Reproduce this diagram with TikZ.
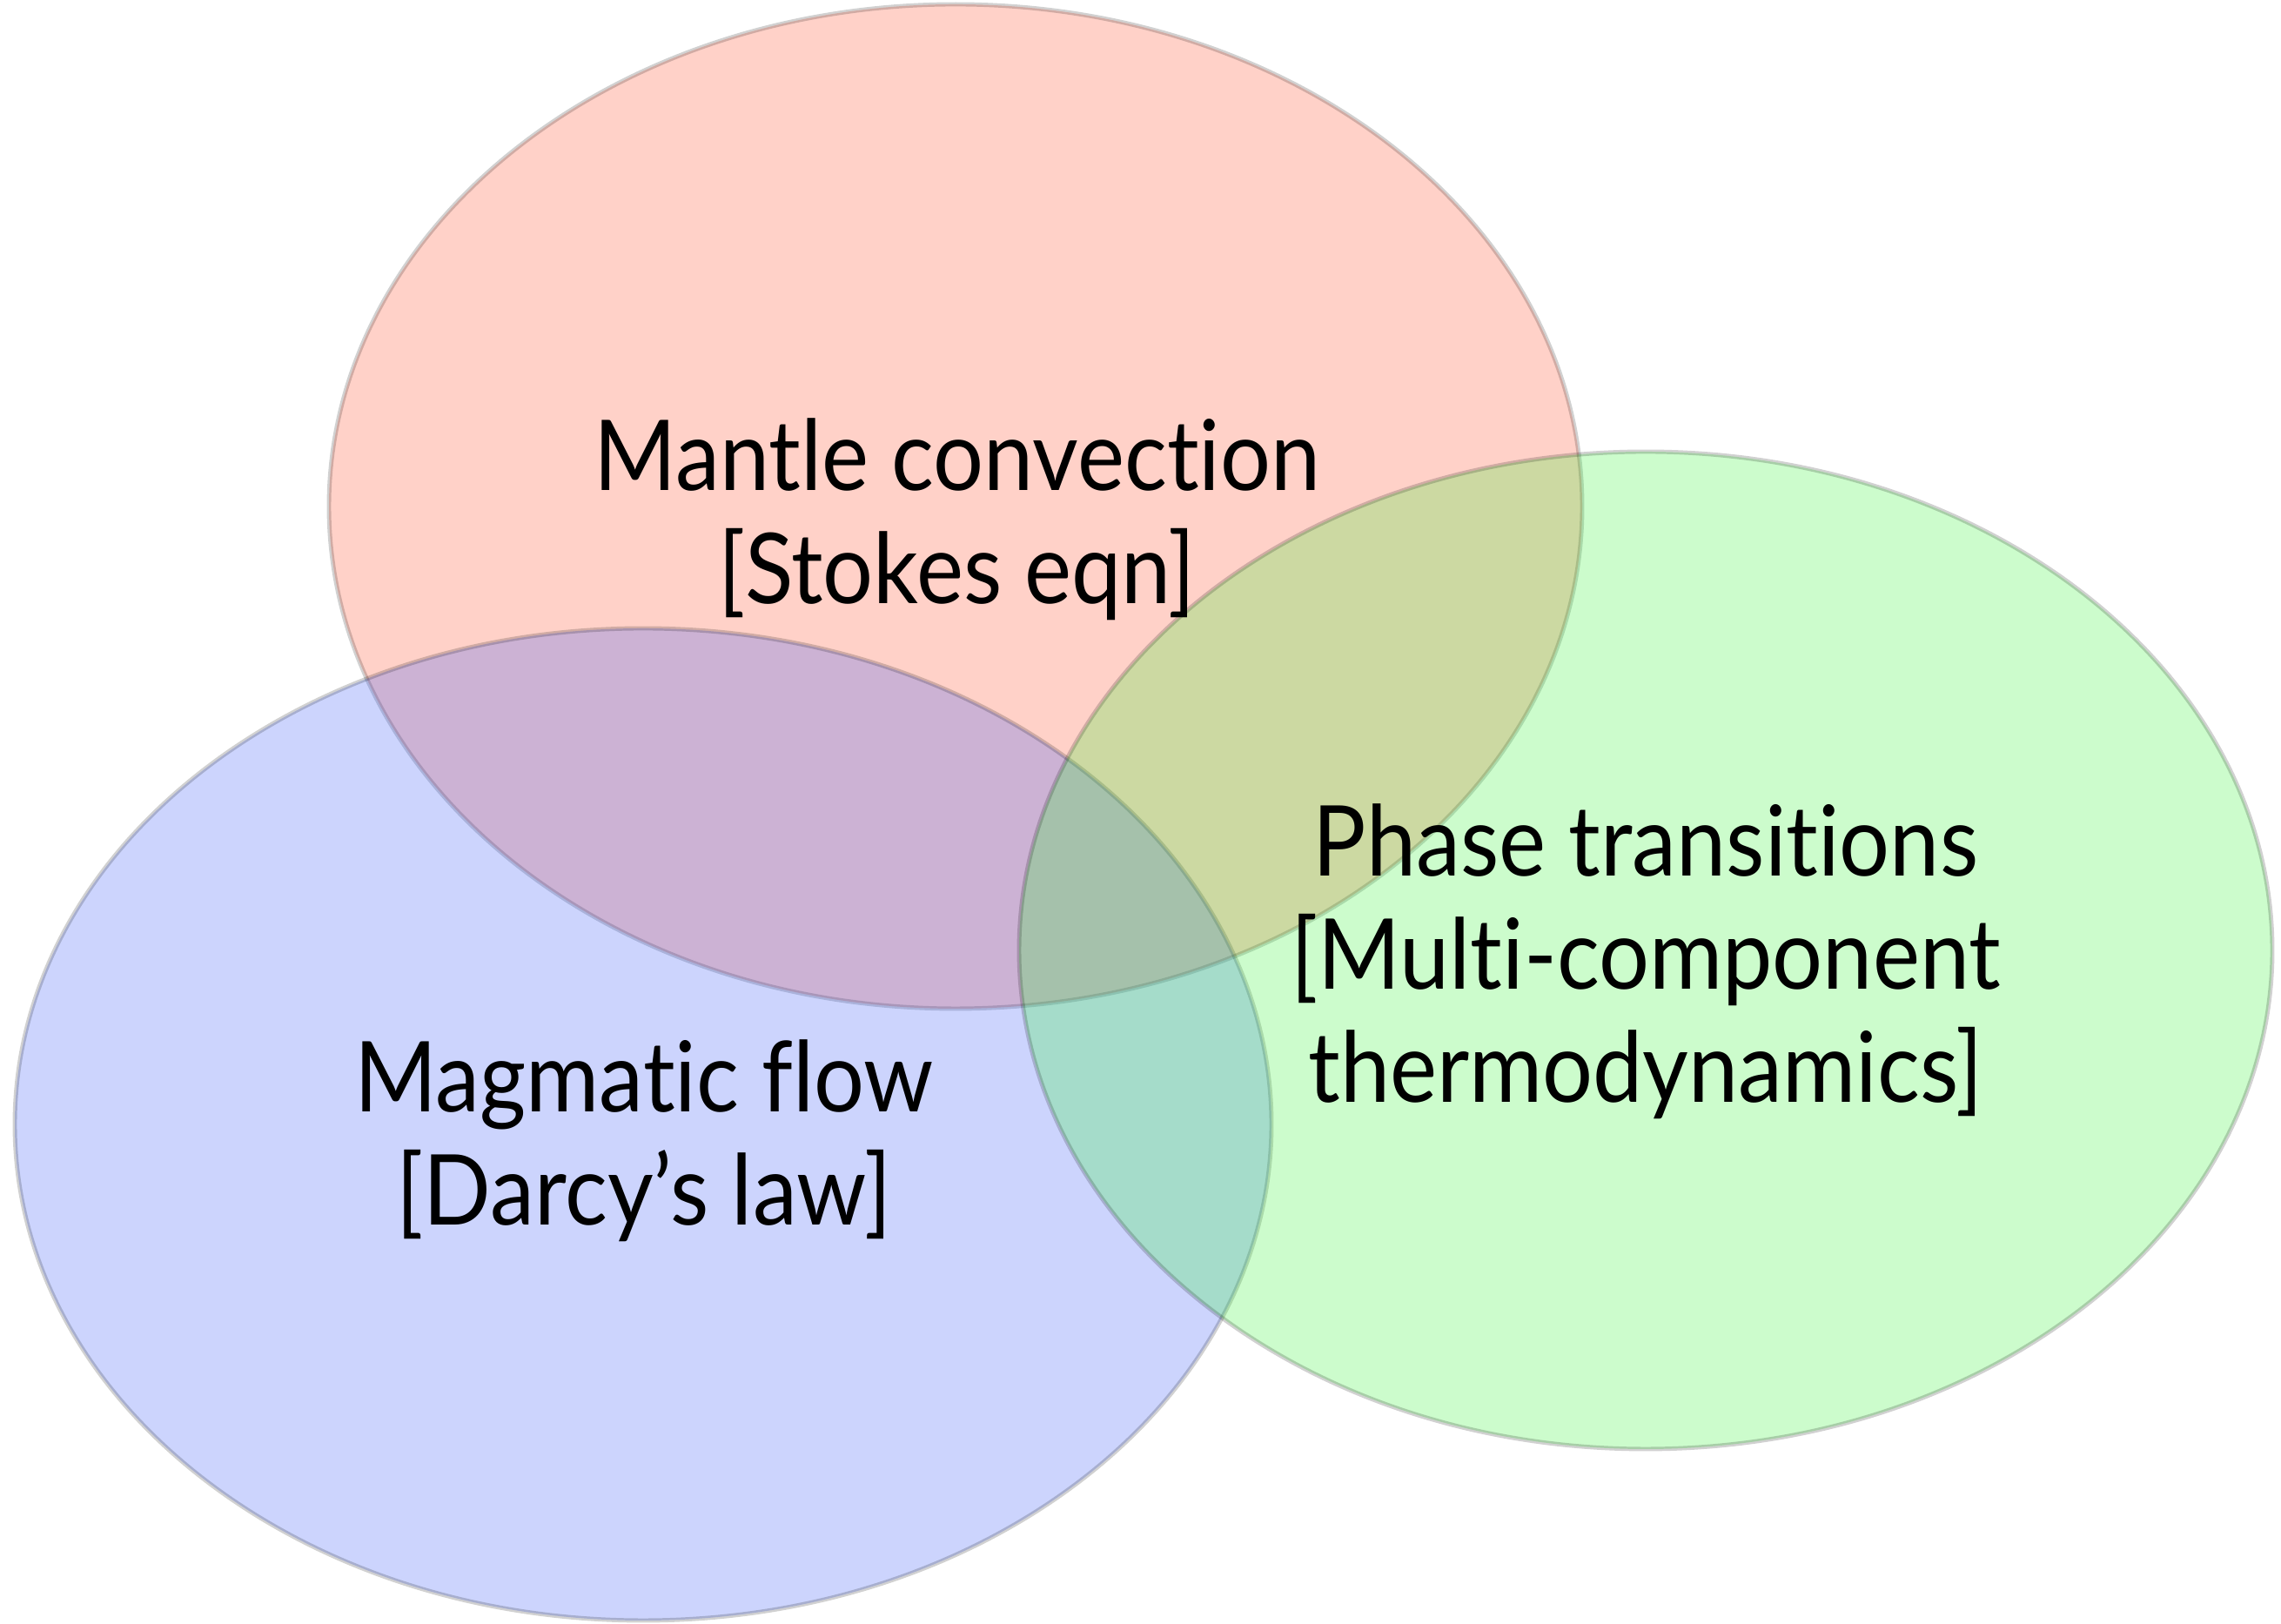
\documentclass[tikz,border=0pt]{standalone}
\usepackage{fontspec}
\setmainfont{Lato}[FakeStretch=0.91, RawFeature=-liga]

\definecolor{mantlered}{RGB}{255,71,35}
\definecolor{magmablue}{RGB}{51,85,247}
\definecolor{phasegreen}{RGB}{51,243,51}

\begin{document}
\begin{tikzpicture}
\useasboundingbox (0,0) rectangle (26.21,18.66);
\tikzset{blob/.style={fill opacity=0.25, draw=black, draw opacity=0.18, line width=1.4pt},
         label/.style={align=center, font=\fontsize{32}{37}\selectfont}}

% Ellipses
\foreach \cx/\cy/\rx/\ry/\col in {10.98/12.84/7.20/5.77/mantlered,
                                  7.39/5.74/7.22/5.70/magmablue,
                                  18.91/7.74/7.20/5.73/phasegreen}
  \draw[blob, fill=\col] (\cx,\cy) ellipse [x radius=\rx, y radius=\ry];

% Labels
\node[label] (mantle) at (11.00,12.69) {Mantle convection\\{[Stokes eqn]}};
\node[label] (magma) at (7.40,5.55) {Magmatic flow\\{[Darcy’s law]}};
\node[label] (phase) at (18.91,7.61) {Phase transitions\\{[Multi-component}\\thermodynamics]};
\end{tikzpicture}
\end{document}
